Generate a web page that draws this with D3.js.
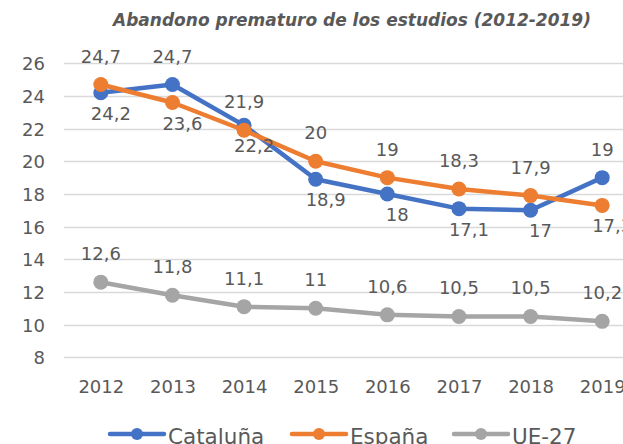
<!DOCTYPE html>
<html><head><meta charset="utf-8">
<script src="https://cdn.jsdelivr.net/npm/d3@7"></script>
<style>
html,body{margin:0;padding:0;background:#fff;}
svg{display:block;}
text{font-family:"DejaVu Sans",sans-serif;fill:#595959;}
</style></head>
<body>
<svg id="chart" width="623" height="444"></svg>
<script>
const years = ["2012","2013","2014","2015","2016","2017","2018","2019"];
const cataluna = [24.2, 24.7, 22.2, 18.9, 18, 17.1, 17, 19];
const espana = [24.7, 23.6, 21.9, 20, 19, 18.3, 17.9, 17.3];
const ue27 = [12.6, 11.8, 11.1, 11, 10.6, 10.5, 10.5, 10.2];
const yTicks = [8, 10, 12, 14, 16, 18, 20, 22, 24, 26];
const seriesNames = ["Cataluña", "España", "UE-27"];
const title = "Abandono prematuro de los estudios (2012-2019)";

const colors = ["#4472C4", "#ED7D31", "#A5A5A5"];
const svg = d3.select("#chart");
const x = d3.scalePoint().domain(years).range([65, 638]).padding(0.5);
const y = d3.scaleLinear().domain([8, 26]).range([357.3, 63.3]);

// gridlines
svg.append("g").selectAll("line").data(yTicks).join("line")
  .attr("x1", 64).attr("x2", 640)
  .attr("y1", d => Math.round(y(d)) + 0.5).attr("y2", d => Math.round(y(d)) + 0.5)
  .attr("stroke", "#D9D9D9").attr("stroke-width", 1.3);

// y axis labels
const yAxis = d3.axisLeft(y).tickValues(yTicks).tickSize(0).tickPadding(0).tickFormat(d3.format("d"));
const gy = svg.append("g").attr("transform", "translate(45,0)").call(yAxis);
gy.select(".domain").remove();
gy.selectAll("text").style("font-size", "18px").attr("fill", "#595959").attr("dy", "0.36em");

// x axis labels
const xAxis = d3.axisBottom(x).tickSize(0).tickPadding(0);
const gx = svg.append("g").attr("transform", "translate(0,393)").call(xAxis);
gx.select(".domain").remove();
gx.selectAll("text").style("font-size", "18px").attr("fill", "#595959").attr("dy", "0");

// title
svg.append("text").attr("x", 352).attr("y", 26).attr("text-anchor", "middle")
  .style("font-size", "17px").style("font-weight", "bold").style("font-style", "italic")
  .attr("fill", "#767676").text(title);

const data = [cataluna, espana, ue27];
const line = d3.line().x((d, i) => x(years[i])).y(d => y(d));
const fmt = v => String(v).replace(".", ",");

data.forEach((vals, s) => {
  const g = svg.append("g");
  g.append("path").datum(vals).attr("d", line).attr("fill", "none")
    .attr("stroke", colors[s]).attr("stroke-width", 4.5).attr("stroke-linejoin", "round");
  g.selectAll("circle").data(vals).join("circle")
    .attr("cx", (d, i) => x(years[i])).attr("cy", d => y(d)).attr("r", 7.5)
    .attr("fill", colors[s]);
});

// data labels
data.forEach((vals, s) => {
  vals.forEach((v, i) => {
    let above = true;
    if (s === 0) above = (cataluna[i] - espana[i]) > 0.5;
    if (s === 1) above = !((cataluna[i] - espana[i]) > 0.5);
    const px = x(years[i]) + (above ? 0 : 10);
    const py = y(v) + (above ? -22 : 27);
    svg.append("text").attr("x", px).attr("y", py).attr("text-anchor", "middle")
      .style("font-size", "18px").attr("fill", "#404040").text(fmt(v));
  });
});

// legend
const legendX = [110, 292, 454];
seriesNames.forEach((name, s) => {
  const g = svg.append("g").attr("transform", `translate(${legendX[s]},434)`);
  g.append("line").attr("x1", 0).attr("x2", 54).attr("y1", 0).attr("y2", 0)
    .attr("stroke", colors[s]).attr("stroke-width", 4.5).attr("stroke-linecap", "round");
  g.append("circle").attr("cx", 27).attr("cy", 0).attr("r", 6).attr("fill", colors[s]);
  g.append("text").attr("x", 58).attr("y", 9.5).style("font-size", "21.5px").attr("fill", "#595959").text(name);
});
</script>
</body></html>
